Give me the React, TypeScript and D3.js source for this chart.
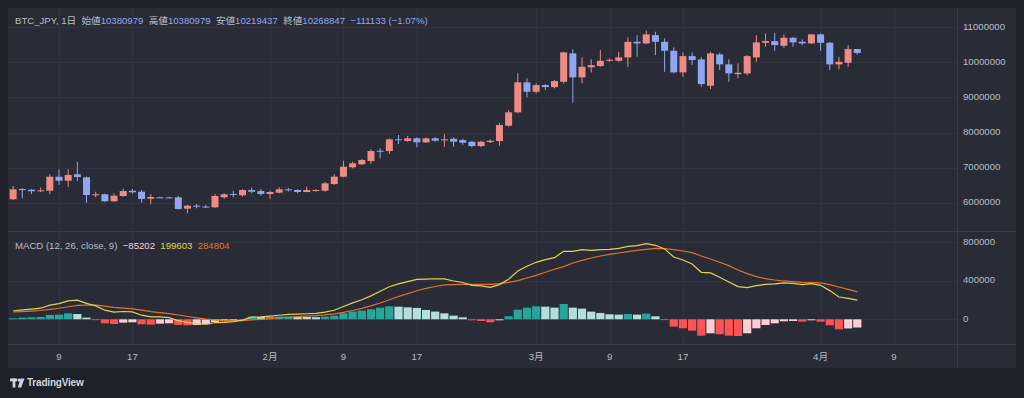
import React from 'react';
import * as d3 from 'd3';

// daily candles BTC_JPY, from 2024-01-04 to 2024-04-05
const firstDay = Date.UTC(2024, 0, 4);

const opens = [
  6097000, 6390000, 6370000, 6325000, 6342000, 6741000, 6627000, 6810000, 6724000, 6219000,
  6240000, 6040000, 6191000, 6342000, 6313000, 6114000, 6154000, 6150000, 6154000, 5829000,
  5915000, 5890000, 5869000, 6154000, 6248000, 6211000, 6362000, 6333000, 6248000, 6285000,
  6382000, 6362000, 6305000, 6333000, 6342000, 6533000, 6741000, 7009000, 7094000, 7188000,
  7481000, 7473000, 7806000, 7758000, 7835000, 7721000, 7835000, 7786000, 7823000, 7786000,
  7738000, 7615000, 7729000, 7758000, 8194000, 8576000, 9430000, 9162000, 9353000, 9296000,
  9447000, 10256000, 9573000, 9858000, 9895000, 10057000, 10046000, 10142000, 10587000, 10541000,
  10778000, 10587000, 10331000, 9715000, 10179000, 10085000, 9333000, 10228000, 9943000, 9667000,
  9687000, 10142000, 10558000, 10607000, 10473000, 10701000, 10587000, 10541000, 10798000, 10558000,
  9943000, 9989000, 10380979,
];
const highs = [
  6476000, 6410000, 6390000, 6427000, 6810000, 6952000, 6952000, 7168000, 6741000, 6313000,
  6257000, 6268000, 6399000, 6390000, 6362000, 6240000, 6170000, 6170000, 6190000, 5935000,
  5963000, 5940000, 6248000, 6268000, 6342000, 6382000, 6427000, 6390000, 6342000, 6439000,
  6420000, 6390000, 6456000, 6380000, 6590000, 6810000, 7197000, 7168000, 7245000, 7521000,
  7550000, 7835000, 7929000, 7900000, 7863000, 7863000, 7872000, 7957000, 7863000, 7823000,
  7766000, 7766000, 7806000, 8279000, 8641000, 9687000, 9544000, 9402000, 9382000, 9496000,
  10302000, 10370000, 10142000, 10085000, 10350000, 10114000, 10302000, 10712000, 10778000, 10900000,
  10872000, 10684000, 10427000, 10285000, 10285000, 10142000, 10302000, 10274000, 10085000, 9972000,
  10208000, 10778000, 10826000, 10843000, 10798000, 10729000, 10655000, 10806000, 10826000, 10587000,
  10160000, 10493000, 10380979,
];
const lows = [
  6077000, 6125000, 6248000, 6305000, 6248000, 6504000, 6456000, 6627000, 6000000, 6154000,
  6020000, 6020000, 6163000, 6257000, 6000000, 5955000, 6130000, 6130000, 5810000, 5698000,
  5840000, 5850000, 5850000, 6114000, 6154000, 6171000, 6268000, 6200000, 6114000, 6268000,
  6320000, 6270000, 6296000, 6310000, 6313000, 6504000, 6724000, 6980000, 7074000, 7103000,
  7265000, 7388000, 7672000, 7729000, 7578000, 7701000, 7738000, 7596000, 7596000, 7652000,
  7578000, 7578000, 7701000, 7624000, 8165000, 8547000, 8998000, 9117000, 9211000, 9259000,
  9402000, 8849000, 9402000, 9715000, 9875000, 10017000, 10017000, 9875000, 10160000, 10521000,
  10208000, 9732000, 9687000, 9590000, 9923000, 9305000, 9239000, 9781000, 9447000, 9544000,
  9638000, 10017000, 10444000, 10331000, 10416000, 10444000, 10493000, 10521000, 10331000, 9781000,
  9801000, 9875000, 10219437,
];
const closes = [
  6382000, 6360000, 6325000, 6353000, 6741000, 6627000, 6789000, 6732000, 6219000, 6240000,
  6040000, 6200000, 6333000, 6296000, 6105000, 6163000, 6145000, 6145000, 5820000, 5915000,
  5886000, 5870000, 6191000, 6240000, 6220000, 6362000, 6313000, 6248000, 6305000, 6382000,
  6353000, 6305000, 6362000, 6362000, 6552000, 6741000, 7026000, 7123000, 7217000, 7473000,
  7464000, 7806000, 7778000, 7835000, 7721000, 7835000, 7767000, 7806000, 7738000, 7710000,
  7615000, 7738000, 7766000, 8214000, 8576000, 9430000, 9162000, 9353000, 9296000, 9467000,
  10285000, 9573000, 9875000, 9923000, 10046000, 10074000, 10142000, 10587000, 10541000, 10798000,
  10587000, 10331000, 9715000, 10179000, 10066000, 9382000, 10256000, 9943000, 9687000, 9704000,
  10179000, 10570000, 10607000, 10493000, 10701000, 10570000, 10541000, 10798000, 10558000, 9943000,
  10017000, 10379980, 10268847,
];

// MACD (12, 26, close, 9)
const macdLine = [
  86200, 97400, 106100, 115300, 147500, 163200, 192200, 198900, 165500, 139600,
  94600, 75500, 80800, 76400, 42600, 25300, 24500, 17600, -14600, -33500,
  -44900, -51000, -33600, -31900, -24100, -9300, 21800, 24400, 33900, 41900,
  50200, 53700, 57700, 61200, 73800, 93600, 133100, 171100, 203600, 243600,
  290900, 338600, 367400, 391400, 414900, 418100, 421100, 419000, 398200, 382700,
  353200, 346300, 332400, 360100, 415600, 502100, 550400, 592100, 619900, 640500,
  706200, 706200, 723800, 716900, 723800, 727300, 737600, 758400, 765300, 786100,
  768800, 731200, 647600, 616400, 574900, 488300, 481400, 436400, 387800, 339300,
  329000, 349800, 363600, 367100, 377400, 374000, 360200, 370500, 353300, 297900,
  232000, 216700, 199603,
];
const signalLine = [
  75800, 80100, 85300, 91300, 102500, 114700, 130200, 143900, 148200, 146500,
  136100, 124000, 115400, 107600, 94600, 80700, 69500, 59100, 44400, 28800,
  14100, 1100, -5900, -11100, -13700, -12800, -5900, 200, 6900, 13900,
  21200, 27700, 33700, 39200, 46100, 55600, 71100, 91100, 113600, 139600,
  169900, 203600, 236400, 267400, 296900, 321100, 341100, 356700, 360200, 361900,
  363600, 363600, 363600, 370500, 384400, 401700, 429400, 457100, 488300, 519500,
  547200, 585200, 613000, 637200, 658000, 675300, 689100, 703000, 716800, 727200,
  737600, 734200, 723800, 709900, 692600, 658000, 626800, 592200, 557500, 512500,
  474400, 443300, 422500, 408600, 398200, 391300, 384400, 380900, 377500, 360200,
  335900, 311700, 284804,
];
const histogram = [
  10400, 17300, 20800, 24000, 45000, 48500, 62000, 55000, 17300, -6900,
  -41500, -48500, -34600, -31200, -52000, -55400, -45000, -41500, -58900, -62300,
  -58900, -52000, -27700, -20800, -10400, 3500, 27700, 24200, 27000, 28000,
  29000, 26000, 24000, 22000, 27700, 38000, 62000, 80000, 90000, 104000,
  121000, 135000, 131000, 124000, 118000, 97000, 80000, 62300, 38000, 20800,
  -10400, -17300, -31200, -10400, 31200, 100400, 121000, 135000, 131600, 121000,
  159000, 121000, 110800, 79700, 65800, 52000, 48500, 55400, 48500, 58900,
  31200, -3000, -76200, -93500, -117700, -169700, -145400, -155800, -169700, -173200,
  -145400, -93500, -58900, -41500, -20800, -17300, -24200, -10400, -24200, -62300,
  -103900, -95000, -85202,
];

const priceTicks = [11000000, 10000000, 9000000, 8000000, 7000000, 6000000];
const macdTicks = [800000, 400000, 0];
const timeTicks = [
  Date.UTC(2024, 0, 9), Date.UTC(2024, 0, 17), Date.UTC(2024, 1, 1), Date.UTC(2024, 1, 9),
  Date.UTC(2024, 1, 17), Date.UTC(2024, 2, 1), Date.UTC(2024, 2, 9), Date.UTC(2024, 2, 17),
  Date.UTC(2024, 3, 1), Date.UTC(2024, 3, 9),
];
const timeLabels = ['9', '17', '2月', '9', '17', '3月', '9', '17', '4月', '9'];

// colours
const BG = '#1f212a';
const PANEL = '#292c37';
const GRID = '#31343f';
const BORDER = '#3a3d49';
const TEXT = '#b9bcc6';
const UP = '#ee8b83';
const DOWN = '#8fa6f3';
const MACD_C = '#e3d24c';
const SIGNAL_C = '#e2722a';
const FONT = '"Liberation Sans", "Noto Sans CJK JP", sans-serif';

function histColor(i: number) {
  const v = histogram[i];
  const prev = i > 0 ? histogram[i - 1] : -Infinity;
  if (v >= 0) return v >= prev ? '#26a69a' : '#b2dfdb';
  return v < prev ? '#ff5252' : '#ffcdd2';
}

// number with a real minus sign
const fmt = (v: number, digits = 0) =>
  (v < 0 ? '\u2212' : '') + Math.abs(v).toFixed(digits);

export default function App() {
  const days = closes.map((_, i) => new Date(firstDay + i * 86400000));

  // layout
  const left = 8, right = 1016, top = 8, bottom = 368;
  const plotRight = 957.5;
  const paneSplit = 231.5;
  const timeAxisY = 344.5;

  const x = d3.scaleUtc()
    .domain([new Date(Date.UTC(2024, 0, 9)), new Date(Date.UTC(2024, 3, 9))])
    .range([59, 894]);
  const y = d3.scaleLinear().domain([6000000, 11000000]).range([202.7, 27.3]);
  const ym = d3.scaleLinear().domain([0, 800000]).range([319.3, 242.3]);

  const bodyW = 7;
  const barW = 8.2;

  const macdPath = d3.line<number>()
    .x((_, i) => x(days[i]))
    .y((v) => ym(v))(macdLine);
  const signalPath = d3.line<number>()
    .x((_, i) => x(days[i]))
    .y((v) => ym(v))(signalLine);

  const last = closes.length - 1;
  const change = closes[last] - closes[last - 1];
  const changePct = (change / closes[last - 1]) * 100;
  const headColor = closes[last] >= opens[last] ? UP : DOWN;

  return (
    <svg width={1024} height={398} style={{ position: 'absolute', left: 0, top: 0, display: 'block' }}
      fontFamily={FONT}>
      <rect x={0} y={0} width={1024} height={398} fill={BG} />
      <rect x={left} y={top} width={right - left} height={bottom - top} fill={PANEL} />

      {/* grid */}
      <g stroke={GRID} strokeWidth={1}>
        {timeTicks.map((t) => (
          <line key={t} x1={Math.round(x(new Date(t))) + 0.5} x2={Math.round(x(new Date(t))) + 0.5}
            y1={top} y2={timeAxisY} />
        ))}
        {priceTicks.map((p) => (
          <line key={p} x1={left} x2={plotRight} y1={Math.round(y(p)) + 0.5} y2={Math.round(y(p)) + 0.5} />
        ))}
        {macdTicks.map((m) => (
          <line key={m} x1={left} x2={plotRight} y1={Math.round(ym(m)) + 0.5} y2={Math.round(ym(m)) + 0.5} />
        ))}
      </g>

      {/* pane borders */}
      <g stroke={BORDER} strokeWidth={1}>
        <line x1={left} x2={right} y1={paneSplit} y2={paneSplit} />
        <line x1={left} x2={right} y1={timeAxisY} y2={timeAxisY} />
        <line x1={plotRight} x2={plotRight} y1={top} y2={bottom} />
      </g>

      {/* candles */}
      <g>
        {days.map((d, i) => {
          const cx = x(d);
          const up = closes[i] >= opens[i];
          const c = up ? UP : DOWN;
          const yTop = y(Math.max(opens[i], closes[i]));
          const yBot = y(Math.min(opens[i], closes[i]));
          return (
            <g key={i}>
              <line x1={cx} x2={cx} y1={y(highs[i])} y2={y(lows[i])} stroke={c} strokeWidth={1} />
              <rect x={cx - bodyW / 2} y={yTop} width={bodyW} height={Math.max(1, yBot - yTop)} fill={c} />
            </g>
          );
        })}
      </g>

      {/* MACD histogram */}
      <g>
        {histogram.map((v, i) => {
          const cx = x(days[i]);
          const y0 = ym(0);
          const y1 = ym(v);
          return (
            <rect key={i} x={cx - barW / 2} y={Math.min(y0, y1)} width={barW}
              height={Math.max(0.8, Math.abs(y1 - y0))} fill={histColor(i)} />
          );
        })}
      </g>
      <path d={signalPath || ''} fill="none" stroke={SIGNAL_C} strokeWidth={1.2} />
      <path d={macdPath || ''} fill="none" stroke={MACD_C} strokeWidth={1.2} />

      {/* axes labels */}
      <g fontSize={9.6} fill={TEXT}>
        {priceTicks.map((p) => (
          <text key={p} x={963} y={y(p)} dominantBaseline="middle">{p}</text>
        ))}
        {macdTicks.map((m) => (
          <text key={m} x={963} y={ym(m)} dominantBaseline="middle">{m}</text>
        ))}
        {timeTicks.map((t, i) => (
          <text key={t} x={x(new Date(t))} y={357} textAnchor="middle" dominantBaseline="middle">
            {timeLabels[i]}
          </text>
        ))}
      </g>

      {/* legend: symbol and OHLC */}
      <text x={15} y={20.5} fontSize={9.6} dominantBaseline="middle" fill={TEXT} xmlSpace="preserve">
        <tspan>BTC_JPY, 1日  </tspan>
        <tspan>始値</tspan><tspan fill={headColor}>{opens[last]}</tspan>
        <tspan>  高値</tspan><tspan fill={headColor}>{highs[last]}</tspan>
        <tspan>  安値</tspan><tspan fill={headColor}>{lows[last]}</tspan>
        <tspan>  終値</tspan><tspan fill={headColor}>{closes[last]}</tspan>
        <tspan fill={headColor}>{'  ' + fmt(change) + ' (' + fmt(changePct, 2) + '%)'}</tspan>
      </text>

      {/* legend: MACD */}
      <text x={15} y={245.5} fontSize={9.6} dominantBaseline="middle" fill={TEXT} xmlSpace="preserve">
        <tspan>MACD (12, 26, close, 9)  </tspan>
        <tspan fill={histColor(last)}>{fmt(histogram[last])}</tspan>
        <tspan fill={MACD_C}>{'  ' + macdLine[last]}</tspan>
        <tspan fill={SIGNAL_C}>{'  ' + signalLine[last]}</tspan>
      </text>

      {/* TradingView logo */}
      <g fill="#d1d4dc">
        <rect x={10} y={378.5} width={7} height={2.8} />
        <rect x={12.6} y={378.5} width={2.8} height={9} />
        <circle cx={19} cy={380} r={1.5} />
        <polygon points="20.5,378.5 24.5,378.5 21.2,387.5 17.8,387.5" />
        <text x={27} y={383.5} fontSize={10} dominantBaseline="middle" fontWeight="bold" letterSpacing={-0.2}>
          TradingView
        </text>
      </g>
    </svg>
  );
}
